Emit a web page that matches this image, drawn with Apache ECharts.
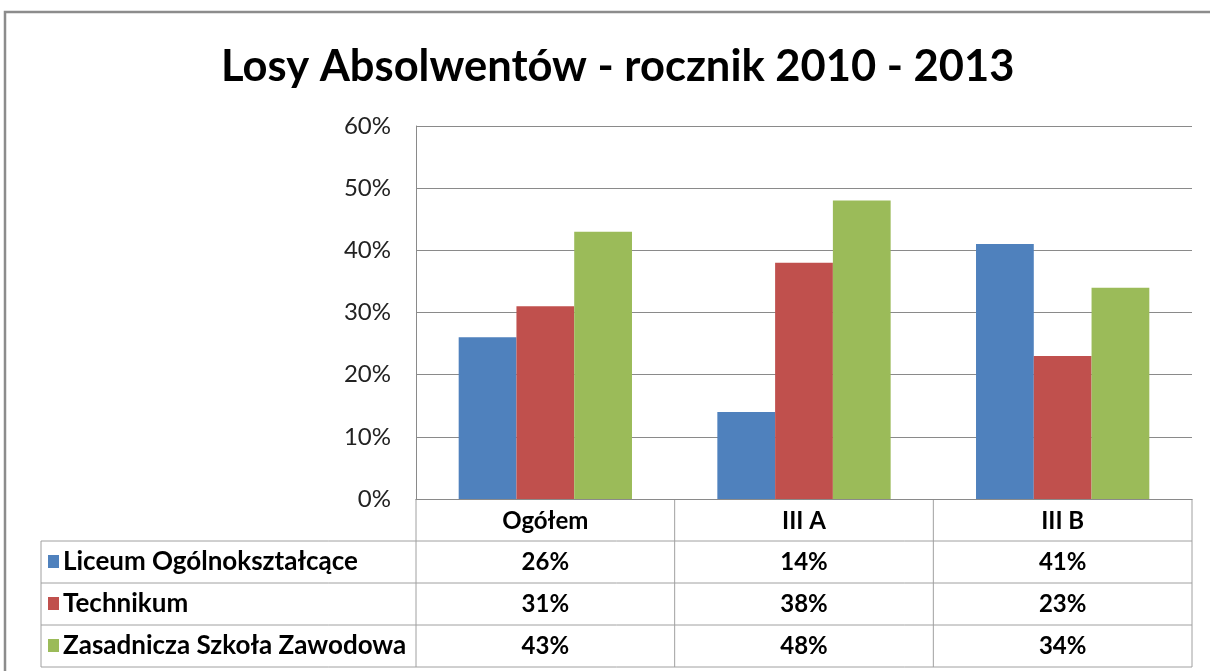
<!DOCTYPE html>
<html><head><meta charset="utf-8">
<script src="https://cdn.jsdelivr.net/npm/echarts@6/dist/echarts.min.js"></script>
<style>html,body{margin:0;padding:0;background:#fff}#c{width:1210px;height:671px}</style>
</head><body><div id="c"></div>
<script>
const categories = ['Ogółem', 'III A', 'III B'];
const seriesNames = ['Liceum Ogólnokształcące', 'Technikum', 'Zasadnicza Szkoła Zawodowa'];
const liceum = [0.26, 0.14, 0.41];
const technikum = [0.31, 0.38, 0.23];
const zasadnicza = [0.43, 0.48, 0.34];
const seriesValues = [liceum, technikum, zasadnicza];
const colors = ['#4F81BD', '#C0504D', '#9BBB59'];

const FONT = 'Lato, "Open Sans", sans-serif';
const GL = 416, GR = 1192, GT = 126, GB = 499;
const TABLE_L = 41, ROW_H = 42;
const pct = v => Math.round(v * 100) + '%';

const chart = echarts.init(document.getElementById('c'), null, {renderer: 'canvas'});
chart.setOption({
  animation: false,
  backgroundColor: '#fff',
  title: {
    text: 'Losy Absolwentów - rocznik 2010 - 2013',
    left: 216, top: 40,
    textStyle: {fontFamily: FONT, fontWeight: 'bold', fontSize: 43.5, color: '#000'}
  },
  grid: {left: GL, right: 1210 - GR, top: GT, bottom: 671 - GB, containLabel: false},
  xAxis: {
    type: 'category', data: categories,
    axisLine: {show: true, lineStyle: {color: '#8a8a8a', width: 1}},
    axisTick: {show: false},
    axisLabel: {fontFamily: FONT, fontWeight: 'bold', fontSize: 24, color: '#000', margin: 10}
  },
  yAxis: {
    type: 'value', min: 0, max: 0.6, interval: 0.1,
    axisLine: {show: true, lineStyle: {color: '#8a8a8a', width: 1}},
    axisTick: {show: false},
    splitLine: {lineStyle: {color: '#8a8a8a', width: 1}},
    axisLabel: {fontFamily: FONT, fontSize: 24, color: '#222', margin: 25, formatter: v => pct(v)}
  },
  series: seriesNames.map((n, i) => ({
    name: n, type: 'bar', data: seriesValues[i],
    itemStyle: {color: colors[i]},
    barGap: '0%', barCategoryGap: '33%'
  }))
});

const g = [];
const line = (x1, y1, x2, y2) => g.push({type: 'line', shape: {x1, y1, x2, y2}, style: {stroke: '#a0a0a0', lineWidth: 1}, silent: true});
const bandW = (GR - GL) / categories.length;
const rowTop = GB + ROW_H;
const tableBottom = rowTop + ROW_H * seriesNames.length;
for (let r = 0; r <= seriesNames.length; r++) line(TABLE_L, rowTop + r * ROW_H, GR, rowTop + r * ROW_H);
line(TABLE_L, rowTop, TABLE_L, tableBottom);
for (let c = 0; c <= categories.length; c++) line(GL + c * bandW, GB, GL + c * bandW, tableBottom);
seriesNames.forEach((n, r) => {
  const cy = rowTop + r * ROW_H + ROW_H / 2;
  g.push({type: 'rect', shape: {x: 48, y: cy - 7, width: 11, height: 13}, style: {fill: colors[r]}, silent: true});
  g.push({type: 'text', x: 63, y: cy, style: {text: n, font: 'bold 26px ' + FONT, fill: '#000', align: 'left', verticalAlign: 'middle', textAlign: 'left', textVerticalAlign: 'middle'}, silent: true});
  seriesValues[r].forEach((v, c) => {
    const cx = chart.convertToPixel({xAxisIndex: 0}, categories[c]);
    g.push({type: 'text', x: cx, y: cy, style: {text: pct(v), font: 'bold 24px ' + FONT, fill: '#000', align: 'center', verticalAlign: 'middle', textAlign: 'center', textVerticalAlign: 'middle'}, silent: true});
  });
});
g.push({type: 'rect', shape: {x: 5, y: 12, width: 1400, height: 900}, style: {fill: 'none', stroke: '#8c8c8c', lineWidth: 2.5}, silent: true});
chart.setOption({graphic: g});
</script>
</body></html>
